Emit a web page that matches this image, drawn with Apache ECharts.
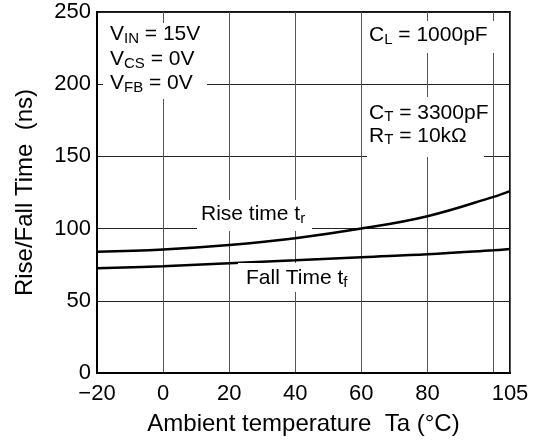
<!DOCTYPE html>
<html>
<head>
<meta charset="utf-8">
<script src="https://cdn.jsdelivr.net/npm/echarts@6/dist/echarts.min.js"></script>
<style>
html,body{margin:0;padding:0;background:#fff;}
#chart{width:546px;height:443px;}
</style>
</head>
<body>
<div id="chart"></div>
<script>
var temps = [-20, 0, 20, 40, 60, 80, 100, 105];
var riseTime = [84, 85.5, 88.6, 93.3, 100, 108.6, 122, 126];
var fallTime = [72.5, 74, 76, 78, 80.2, 82.2, 85, 85.8];
var xTicks = [-20, 0, 20, 40, 60, 80, 105];
var yTicks = [0, 50, 100, 150, 200, 250];

var FONT = 'Liberation Sans, Arial, sans-serif';
function pairs(xs, ys) { return xs.map(function (x, i) { return [x, ys[i]]; }); }

var chart = echarts.init(document.getElementById('chart'));
var subStyle = { fontSize: 15, fontFamily: FONT, color: '#000', lineHeight: 8, verticalAlign: 'bottom' };
function txt(x, y, lines, lh) {
  return {
    type: 'text', x: x, y: y, z: 110,
    style: {
      text: lines.join('\n'),
      fontSize: 21, fontFamily: FONT, fill: '#000',
      lineHeight: lh, align: 'left', verticalAlign: 'top',
      rich: {
        m: { fontSize: 21, fontFamily: FONT, color: '#000', lineHeight: lh },
        s: subStyle
      }
    }
  };
}
function box(x1, y1, x2, y2) {
  return { type: 'rect', z: 100, shape: { x: x1, y: y1, width: x2 - x1, height: y2 - y1 }, style: { fill: '#fff' } };
}

chart.setOption({
  animation: false,
  backgroundColor: '#fff',
  grid: { left: 97, right: 36, top: 12, bottom: 70, show: true, borderColor: '#111', borderWidth: 2, backgroundColor: 'transparent' },
  xAxis: {
    type: 'value', min: -20, max: 105, interval: 20,
    name: 'Ambient temperature  Ta (°C)', nameLocation: 'middle', nameGap: 39,
    nameTextStyle: { fontSize: 24, fontFamily: FONT, color: '#000' },
    axisLine: { show: true, onZero: false, lineStyle: { color: '#000', width: 2 } },
    axisTick: { show: false },
    axisLabel: {
      fontSize: 22, fontFamily: FONT, color: '#000', margin: 10,
      showMinLabel: true, showMaxLabel: true,
      formatter: function (v) {
        if (xTicks.indexOf(v) < 0) return '';
        return v < 0 ? '\u2212' + Math.abs(v) : String(v);
      }
    },
    splitLine: { show: true, lineStyle: { color: '#555', width: 1 } }
  },
  yAxis: {
    type: 'value', min: 0, max: 250, interval: 50,
    name: 'Rise/Fall Time  (ns)', nameLocation: 'middle', nameGap: 60,
    nameTextStyle: { fontSize: 24, fontFamily: FONT, color: '#000' },
    axisLine: { show: true, onZero: false, lineStyle: { color: '#000', width: 2 } },
    axisTick: { show: false },
    axisLabel: {
      fontSize: 22, fontFamily: FONT, color: '#000', margin: 6,
      formatter: function (v) { return yTicks.indexOf(v) < 0 ? '' : String(v); }
    },
    splitLine: { show: true, lineStyle: { color: '#222', width: 1 } }
  },
  series: [
    { type: 'line', name: 'Rise time', data: pairs(temps, riseTime), smooth: 0.4, symbol: 'none', lineStyle: { color: '#000', width: 2.5 }, z: 5 },
    { type: 'line', name: 'Fall Time', data: pairs(temps, fallTime), smooth: 0.4, symbol: 'none', lineStyle: { color: '#000', width: 2.5 }, z: 5 }
  ],
  graphic: [
    box(103, 23, 207, 99),
    box(365, 21, 502, 53),
    box(367, 97, 484, 157),
    box(197, 200, 312, 231),
    box(238, 263, 356, 292),
    txt(110, 22, ['{m|V}{s|IN}{m| = 15V}', '{m|V}{s|CS}{m| = 0V}', '{m|V}{s|FB}{m| = 0V}'], 24.5),
    txt(369, 23, ['{m|C}{s|L}{m| = 1000pF}'], 24),
    txt(369, 102, ['{m|C}{s|T}{m| = 3300pF}', '{m|R}{s|T}{m| = 10kΩ}'], 22.5),
    txt(201, 202, ['{m|Rise time t}{s|r}'], 24),
    txt(246, 266, ['{m|Fall Time t}{s|f}'], 24)
  ]
});
</script>
</body>
</html>
